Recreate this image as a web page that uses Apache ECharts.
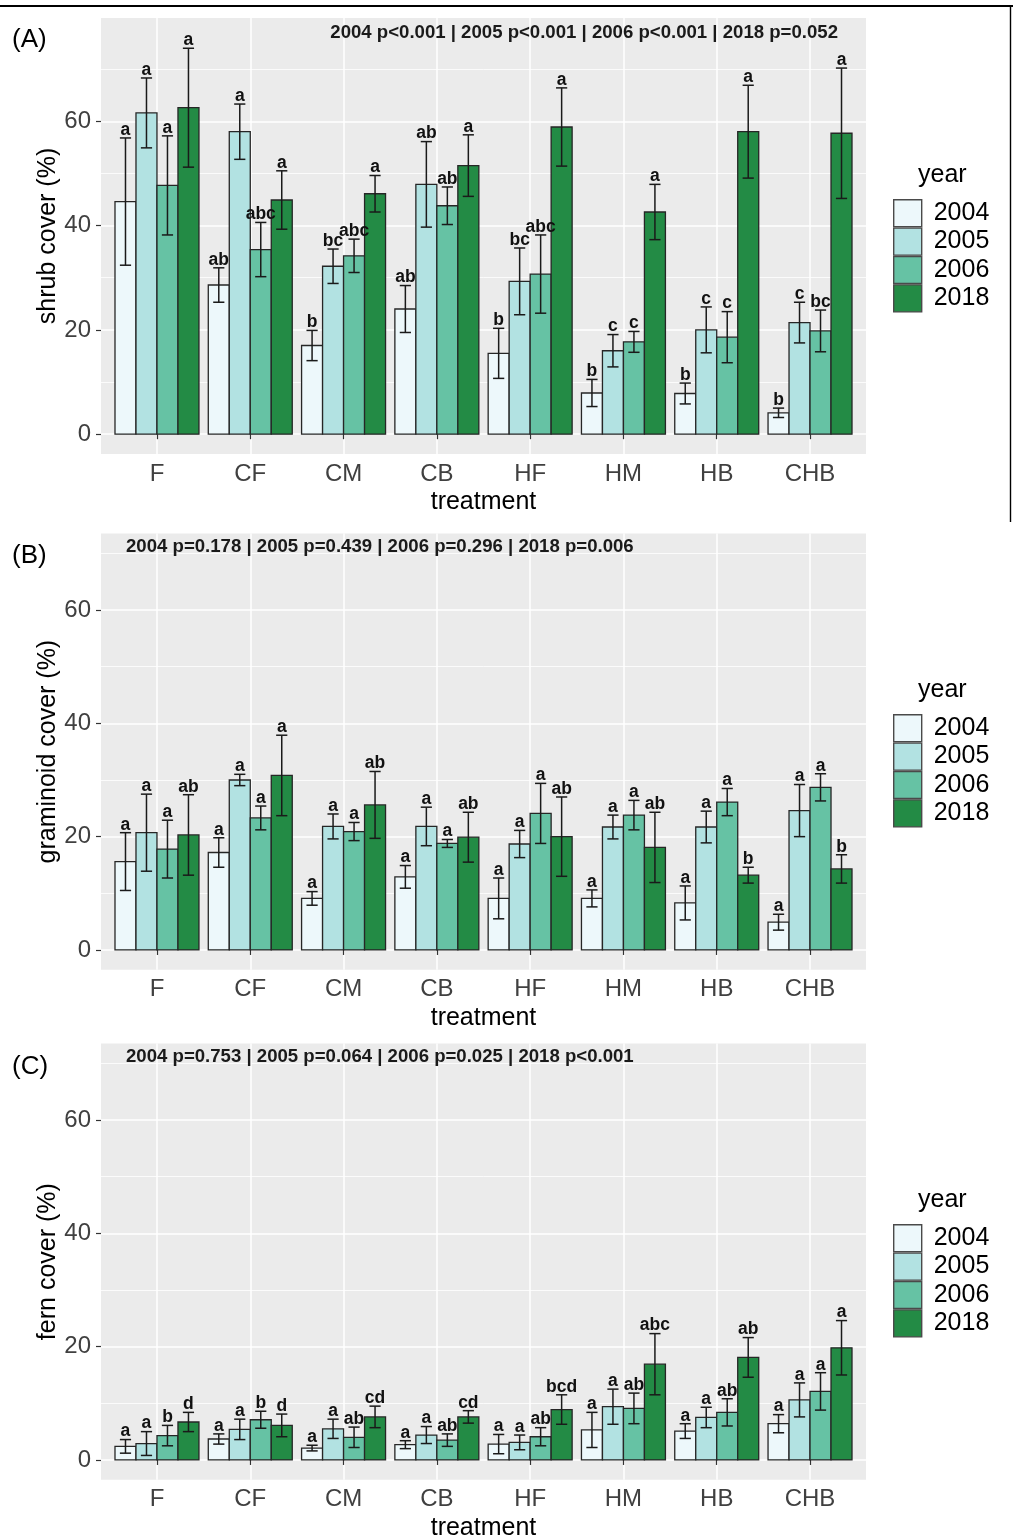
<!DOCTYPE html>
<html>
<head>
<meta charset="utf-8">
<script src="https://cdn.jsdelivr.net/npm/echarts@6/dist/echarts.min.js"></script>
<style>
html, body { margin: 0; padding: 0; background: #fff; }
#chart { width: 1013px; height: 1536px; }
</style>
</head>
<body>
<div id="chart"></div>
<script>
// Treatments on the x axis and survey years (fill groups)
const treatments = ['F', 'CF', 'CM', 'CB', 'HF', 'HM', 'HB', 'CHB'];
const years = ['2004', '2005', '2006', '2018'];
const yearColors = ['#edf8fb', '#b2e2e2', '#66c2a4', '#238b45'];
const yTicks = [0, 20, 40, 60];
const yMinorTicks = [10, 30, 50, 70];

// Shrub cover (%): mean and SE, one row per year, one column per treatment
const shrubMean = [
  [44.6, 28.6, 17.0, 24.0, 15.5, 7.9, 7.8, 4.1],
  [61.6, 58.0, 32.2, 47.9, 29.3, 16.0, 20.0, 21.4],
  [47.7, 35.4, 34.2, 43.8, 30.7, 17.7, 18.6, 19.8],
  [62.6, 44.9, 46.1, 51.5, 58.9, 42.6, 58.0, 57.7]
];
const shrubErr = [
  [12.2, 3.3, 2.9, 4.5, 4.8, 2.6, 2.0, 0.9],
  [6.7, 5.3, 3.3, 8.2, 6.4, 3.1, 4.4, 3.9],
  [9.5, 5.2, 3.2, 3.6, 7.5, 2.0, 4.9, 4.0],
  [11.4, 5.6, 3.5, 5.9, 7.5, 5.3, 8.9, 12.5]
];
const shrubLetters = [
  ['a', 'ab', 'b', 'ab', 'b', 'b', 'b', 'b'],
  ['a', 'a', 'bc', 'ab', 'bc', 'c', 'c', 'c'],
  ['a', 'abc', 'abc', 'ab', 'abc', 'c', 'c', 'bc'],
  ['a', 'a', 'a', 'a', 'a', 'a', 'a', 'a']
];
const shrubStats = '2004 p<0.001 | 2005 p<0.001 | 2006 p<0.001 | 2018 p=0.052';

// Graminoid cover (%)
const graminoidMean = [
  [15.6, 17.2, 9.1, 12.9, 9.1, 9.1, 8.3, 4.9],
  [20.7, 30.0, 21.8, 21.8, 18.7, 21.7, 21.7, 24.6],
  [17.8, 23.3, 20.9, 18.8, 24.1, 23.8, 26.1, 28.7],
  [20.3, 30.8, 25.6, 19.9, 20.0, 18.1, 13.2, 14.3]
];
const graminoidErr = [
  [5.1, 2.6, 1.2, 2.0, 3.6, 1.5, 3.0, 1.4],
  [6.8, 1.0, 2.2, 3.4, 2.4, 2.1, 2.8, 4.6],
  [5.1, 2.1, 1.6, 0.7, 5.3, 2.6, 2.4, 2.4],
  [7.1, 7.1, 5.9, 4.4, 7.0, 6.2, 1.4, 2.5]
];
const graminoidLetters = [
  ['a', 'a', 'a', 'a', 'a', 'a', 'a', 'a'],
  ['a', 'a', 'a', 'a', 'a', 'a', 'a', 'a'],
  ['a', 'a', 'a', 'a', 'a', 'a', 'a', 'a'],
  ['ab', 'a', 'ab', 'ab', 'ab', 'ab', 'b', 'b']
];
const graminoidStats = '2004 p=0.178 | 2005 p=0.439 | 2006 p=0.296 | 2018 p=0.006';

// Fern cover (%)
const fernMean = [
  [2.4, 3.7, 2.1, 2.7, 2.8, 5.3, 5.1, 6.4],
  [2.9, 5.4, 5.5, 4.4, 3.1, 9.4, 7.5, 10.6],
  [4.3, 7.1, 4.0, 3.5, 4.1, 9.1, 8.4, 12.1],
  [6.7, 6.1, 7.6, 7.6, 8.9, 16.9, 18.1, 19.8]
];
const fernErr = [
  [1.2, 0.9, 0.5, 0.7, 1.7, 3.1, 1.3, 1.6],
  [2.1, 1.8, 1.7, 1.5, 1.3, 3.1, 1.8, 3.0],
  [1.8, 1.5, 1.8, 1.1, 1.6, 2.7, 2.4, 3.3],
  [1.7, 2.0, 1.9, 1.1, 2.6, 5.4, 3.5, 4.8]
];
const fernLetters = [
  ['a', 'a', 'a', 'a', 'a', 'a', 'a', 'a'],
  ['a', 'a', 'a', 'a', 'a', 'a', 'a', 'a'],
  ['b', 'b', 'ab', 'ab', 'ab', 'ab', 'ab', 'a'],
  ['d', 'd', 'cd', 'cd', 'bcd', 'abc', 'ab', 'a']
];
const fernStats = '2004 p=0.753 | 2005 p=0.064 | 2006 p=0.025 | 2018 p<0.001';

const FONT = '"Liberation Sans", Arial, Helvetica, sans-serif';

// Panel layout: one plotting area per response variable
const panels = [
  { tag: '(A)', yName: 'shrub cover (%)', mean: shrubMean, err: shrubErr, letters: shrubLetters, stats: shrubStats,
    top: 18, height: 436, min: -3.8, max: 79.8, statsX: 838, statsAlign: 'right', statsY: 33, tagY: 40, legendTop: 199, yearY: 175 },
  { tag: '(B)', yName: 'graminoid cover (%)', mean: graminoidMean, err: graminoidErr, letters: graminoidLetters, stats: graminoidStats,
    top: 533.5, height: 436.3, min: -3.5, max: 73.5, statsX: 126, statsAlign: 'left', statsY: 547, tagY: 556, legendTop: 714, yearY: 690 },
  { tag: '(C)', yName: 'fern cover (%)', mean: fernMean, err: fernErr, letters: fernLetters, stats: fernStats,
    top: 1043.5, height: 436.3, min: -3.5, max: 73.5, statsX: 126, statsAlign: 'left', statsY: 1057, tagY: 1067, legendTop: 1224, yearY: 1200 }
];

const DODGE = 0.9;                 // total width of a treatment group (category units)
const BAR = DODGE / years.length;  // width of one bar
const CAP = 0.06;                  // half-width of error bar caps

function barRenderer(panel, yi) {
  return function (params, api) {
    const i = params.dataIndex;
    const x = api.value(0), m = api.value(1), e = api.value(2);
    const xc = x - DODGE / 2 + BAR * (yi + 0.5);
    const tl = api.coord([xc - BAR / 2, m]);
    const br = api.coord([xc + BAR / 2, 0]);
    const hi = api.coord([xc, m + e]);
    const lo = api.coord([xc, m - e]);
    const cl = api.coord([xc - CAP, m])[0];
    const cr = api.coord([xc + CAP, m])[0];
    const errStyle = { stroke: '#1a1a1a', lineWidth: 1.5 };
    return {
      type: 'group',
      children: [
        { type: 'rect', z2: 1, shape: { x: tl[0], y: tl[1], width: br[0] - tl[0], height: br[1] - tl[1] },
          style: { fill: yearColors[yi], stroke: '#262626', lineWidth: 1.3 } },
        { type: 'line', z2: 50, shape: { x1: hi[0], y1: hi[1], x2: lo[0], y2: lo[1] }, style: errStyle },
        { type: 'line', z2: 50, shape: { x1: cl, y1: hi[1], x2: cr, y2: hi[1] }, style: errStyle },
        { type: 'line', z2: 50, shape: { x1: cl, y1: lo[1], x2: cr, y2: lo[1] }, style: errStyle },
        { type: 'text', z2: 60, style: { text: panel.letters[yi][i], x: hi[0], y: hi[1] + 1,
            align: 'center', verticalAlign: 'bottom', font: 'bold 17.5px ' + FONT, fill: '#111' } }
      ]
    };
  };
}

const grid = [], xAxis = [], yAxis = [], series = [], legend = [], graphic = [];

panels.forEach((p, pi) => {
  grid.push({ left: 101, right: 147, top: p.top, height: p.height, show: true,
    backgroundColor: '#ebebeb', borderWidth: 0, outerBoundsMode: 'none', containLabel: false });

  xAxis.push({
    type: 'value', gridIndex: pi, min: 0.4, max: 8.6,
    name: 'treatment', nameLocation: 'middle', nameGap: 36, nameMoveOverlap: false,
    nameTextStyle: { fontFamily: FONT, fontSize: 25, color: '#000' },
    axisLine: { show: false },
    axisTick: { show: true, length: 5, customValues: [1, 2, 3, 4, 5, 6, 7, 8], lineStyle: { color: '#333', width: 1.2 } },
    axisLabel: { show: true, margin: 8, customValues: [1, 2, 3, 4, 5, 6, 7, 8],
      formatter: v => treatments[Math.round(v) - 1], fontFamily: FONT, fontSize: 24, color: '#404040' },
    splitLine: { show: true, lineStyle: { color: '#ffffff', width: 1.5 } }
  });

  // major axis with labels
  yAxis.push({
    type: 'value', gridIndex: pi, min: p.min, max: p.max,
    name: p.yName, nameLocation: 'middle', nameGap: 40, nameMoveOverlap: false,
    nameTextStyle: { fontFamily: FONT, fontSize: 25, color: '#000' },
    axisLine: { show: false },
    axisTick: { show: true, length: 5, customValues: yTicks, lineStyle: { color: '#333', width: 1.2 } },
    axisLabel: { show: true, margin: 10, customValues: yTicks, fontFamily: FONT, fontSize: 24, color: '#404040' },
    splitLine: { show: true, lineStyle: { color: '#ffffff', width: 1.5 } }
  });
  // minor gridlines
  yAxis.push({
    type: 'value', gridIndex: pi, min: p.min, max: p.max, position: 'left',
    axisLine: { show: false },
    axisTick: { show: false, customValues: yMinorTicks },
    axisLabel: { show: false },
    splitLine: { show: true, lineStyle: { color: '#ffffff', width: 0.8 } }
  });

  years.forEach((yr, yi) => {
    series.push({
      type: 'custom', name: yr, xAxisIndex: pi, yAxisIndex: 2 * pi, silent: true,
      itemStyle: { color: yearColors[yi], borderColor: '#333', borderWidth: 1.2 },
      encode: { x: 0, y: 1 },
      data: treatments.map((t, i) => [i + 1, p.mean[yi][i], p.err[yi][i]]),
      renderItem: barRenderer(p, yi)
    });
  });

  legend.push({
    orient: 'vertical', left: 893, top: p.legendTop, padding: 0,
    itemWidth: 28, itemHeight: 27, itemGap: 0,
    icon: 'rect', selectedMode: false, data: years,
    itemStyle: { borderColor: '#4a4a4a', borderWidth: 1.4 },
    textStyle: { fontFamily: FONT, fontSize: 25, color: '#000', lineHeight: 24, padding: [0, 0, 0, 7] }
  });

  graphic.push(
    { type: 'text', z: 100, x: 12, y: p.tagY, style: { text: p.tag, verticalAlign: 'middle', font: '26px ' + FONT, fill: '#000' } },
    { type: 'text', z: 100, x: p.statsX, y: p.statsY, style: { text: p.stats, align: p.statsAlign, verticalAlign: 'middle',
        font: 'bold 18.6px ' + FONT, fill: '#1a1a1a' } },
    { type: 'text', z: 100, x: 918, y: p.yearY, style: { text: 'year', verticalAlign: 'middle', font: '25px ' + FONT, fill: '#000' } }
  );
});

// Frame around the first panel
graphic.push(
  { type: 'line', z: 100, shape: { x1: 0, y1: 6, x2: 1013, y2: 6 }, style: { stroke: '#000', lineWidth: 2.2 } },
  { type: 'line', z: 100, shape: { x1: 1010.5, y1: 5, x2: 1010.5, y2: 522 }, style: { stroke: '#000', lineWidth: 1.4 } }
);

const chart = echarts.init(document.getElementById('chart'));
chart.setOption({
  animation: false,
  backgroundColor: '#ffffff',
  grid, xAxis, yAxis, series, legend, graphic
});
</script>
</body>
</html>
